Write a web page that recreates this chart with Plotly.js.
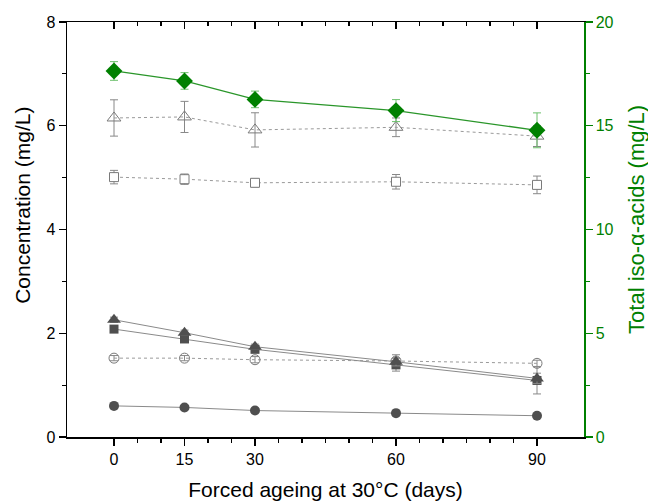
<!DOCTYPE html>
<html>
<head>
<meta charset="utf-8">
<script src="https://cdn.plot.ly/plotly-3.0.1.min.js"></script>
<style>html,body{margin:0;padding:0;background:#fff;}#chart{width:648px;height:504px;}</style>
</head>
<body>
<div id="chart"></div>
<script>
// Data
const days = [0, 15, 30, 60, 90];
const xTickVals = [0, 15, 30, 60, 90];
const xMinorVals = [5, 10, 20, 25, 35, 40, 45, 50, 55, 65, 70, 75, 80, 85];

const openTriangle = [6.15, 6.17, 5.92, 5.97, 5.80];
const openTriangleErr = [0.35, 0.30, 0.33, 0.18, 0.20];
const openSquare = [5.01, 4.97, 4.90, 4.92, 4.86];
const openSquareErr = [0.13, 0.10, 0.08, 0.14, 0.17];
const filledTriangle = [2.26, 2.01, 1.74, 1.45, 1.13];
const filledTriangleErr = [0.05, 0.05, 0.05, 0.08, 0.10];
const filledSquare = [2.08, 1.89, 1.69, 1.39, 1.09];
const filledSquareErr = [0.05, 0.05, 0.05, 0.12, 0.26];
const openCircle = [1.52, 1.52, 1.49, 1.465, 1.42];
const openCircleErr = [0.05, 0.05, 0.06, 0.12, 0.06];
const filledCircle = [0.60, 0.57, 0.51, 0.46, 0.41];
const filledCircleErr = [0.02, 0.02, 0.02, 0.02, 0.02];
const isoAlpha = [17.64, 17.16, 16.27, 15.73, 14.78];
const isoAlphaErr = [0.45, 0.40, 0.40, 0.53, 0.84];

const xTitle = 'Forced ageing at 30°C (days)';
const yTitle = 'Concentration (mg/L)';
const y2Title = 'Total iso-α-acids (mg/L)';

const FONT = 'Arial, "Liberation Sans", sans-serif';
const GREY_LINE = '#8a8a8a';
const GREY_MARK = '#4f4f4f';
const GREY_OPEN = '#7a7a7a';
const GREEN = '#008000';

function errBar(arr, color) {
  return {type: 'data', array: arr, visible: true, color: color, thickness: 1, width: 4};
}

const traces = [
  {x: days, y: filledCircle, mode: 'lines+markers', line: {color: GREY_LINE, width: 1},
   marker: {symbol: 'circle', size: 10, color: GREY_MARK}, error_y: errBar(filledCircleErr, '#888')},
  {x: days, y: openCircle, mode: 'lines+markers', line: {color: '#9a9a9a', width: 1, dash: '3px,3px'},
   marker: {symbol: 'circle-open', size: 10, color: GREY_OPEN, line: {width: 1}}, error_y: errBar(openCircleErr, '#888')},
  {x: days, y: filledSquare, mode: 'lines+markers', line: {color: GREY_LINE, width: 1},
   marker: {symbol: 'square', size: 9, color: GREY_MARK}, error_y: errBar(filledSquareErr, '#888')},
  {x: days, y: filledTriangle, mode: 'lines+markers', line: {color: GREY_LINE, width: 1},
   marker: {symbol: 'triangle-up', size: 12, color: GREY_MARK}, error_y: errBar(filledTriangleErr, '#888')},
  {x: days, y: openSquare, mode: 'lines+markers', line: {color: '#9a9a9a', width: 1, dash: '3px,3px'},
   marker: {symbol: 'square', size: 9, color: '#ffffff', line: {color: GREY_OPEN, width: 1}}, error_y: errBar(openSquareErr, '#888')},
  {x: days, y: openTriangle, mode: 'lines+markers', line: {color: '#9a9a9a', width: 1, dash: '3px,3px'},
   marker: {symbol: 'triangle-up-open', size: 12, color: GREY_OPEN, line: {width: 1}}, error_y: errBar(openTriangleErr, '#888')},
  {x: days, y: isoAlpha, yaxis: 'y2', mode: 'lines+markers', line: {color: '#2a962a', width: 1.3},
   marker: {symbol: 'diamond', size: 13, color: GREEN}, error_y: errBar(isoAlphaErr, '#6cc06c')},
  // invisible trace to activate top mirror axis
  {x: days, y: openSquare, xaxis: 'x2', mode: 'markers', marker: {opacity: 0}, hoverinfo: 'skip', showlegend: false}
];

const layout = {
  width: 648, height: 504,
  margin: {l: 67, r: 64, t: 22, b: 67},
  paper_bgcolor: '#fff', plot_bgcolor: '#fff',
  showlegend: false,
  font: {family: FONT, size: 16, color: '#000'},
  xaxis: {
    range: [-10, 100], tickmode: 'array', tickvals: xTickVals,
    ticks: 'outside', ticklen: 7, tickwidth: 1.3, tickcolor: '#000',
    minor: {tickmode: 'array', tickvals: xMinorVals, ticks: 'outside', ticklen: 4, tickwidth: 1.2, tickcolor: '#000'},
    showline: true, linecolor: '#000', linewidth: 1.5, showgrid: false, zeroline: false,
    tickfont: {size: 16, family: FONT},
    title: {text: xTitle, font: {size: 21, family: FONT}, standoff: 15}
  },
  xaxis2: {
    overlaying: 'x', side: 'top', range: [-10, 100], tickmode: 'array', tickvals: xTickVals,
    ticks: 'inside', ticklen: 7, tickwidth: 1.3, tickcolor: '#000',
    minor: {tickmode: 'array', tickvals: xMinorVals, ticks: 'inside', ticklen: 4, tickwidth: 1.2, tickcolor: '#000'},
    showline: true, linecolor: '#000', linewidth: 1.5, showgrid: false, zeroline: false, showticklabels: false
  },
  yaxis: {
    range: [0, 8], tickmode: 'array', tickvals: [0, 2, 4, 6, 8],
    ticks: 'outside', ticklen: 7, tickwidth: 1.3, tickcolor: '#000',
    minor: {tickmode: 'array', tickvals: [1, 3, 5, 7], ticks: 'outside', ticklen: 4, tickwidth: 1.2, tickcolor: '#000'},
    showline: true, linecolor: '#000', linewidth: 1.5, showgrid: false, zeroline: false,
    tickfont: {size: 16, family: FONT}
  },
  yaxis2: {
    overlaying: 'y', side: 'right', range: [0, 20], tickmode: 'array', tickvals: [0, 5, 10, 15, 20],
    ticks: 'outside', ticklen: 7, tickwidth: 1.3, tickcolor: GREEN,
    minor: {tickmode: 'array', tickvals: [2.5, 7.5, 12.5, 17.5], ticks: 'outside', ticklen: 4, tickwidth: 1.2, tickcolor: GREEN},
    showline: true, linecolor: GREEN, linewidth: 1.5, showgrid: false, zeroline: false,
    tickfont: {size: 16, family: FONT, color: GREEN}
  },
  annotations: [
    {text: yTitle, xref: 'paper', yref: 'paper', x: 0, y: 0.557, xanchor: 'center', yanchor: 'middle',
     xshift: -44, textangle: -90, showarrow: false, font: {size: 21, family: FONT, color: '#000'}},
    {text: y2Title, xref: 'paper', yref: 'paper', x: 1, y: 0.523, xanchor: 'center', yanchor: 'middle',
     xshift: 53, textangle: -90, showarrow: false, font: {size: 22, family: FONT, color: GREEN}}
  ]
};

Plotly.newPlot('chart', traces, layout, {displayModeBar: false, staticPlot: true});
</script>
</body>
</html>
